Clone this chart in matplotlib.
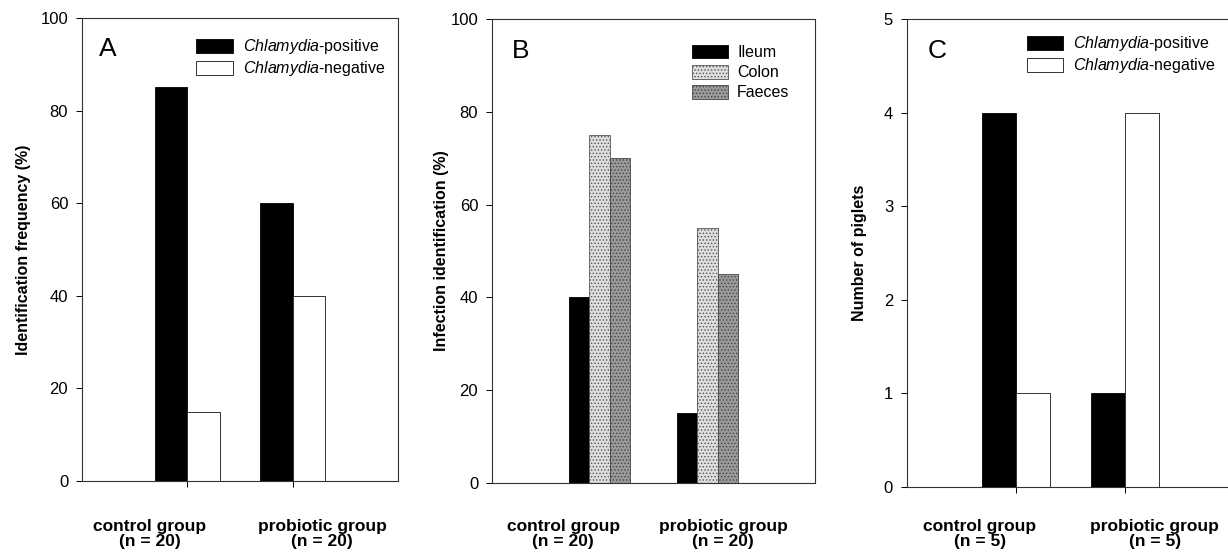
import matplotlib
matplotlib.use('Agg')
import matplotlib.pyplot as plt
import numpy as np

plt.rcParams['font.family'] = ['Liberation Sans', 'DejaVu Sans']
plt.rcParams['mathtext.fontset'] = 'custom'
plt.rcParams['mathtext.rm'] = 'Liberation Sans'
plt.rcParams['mathtext.it'] = 'Liberation Sans:italic'
plt.rcParams['hatch.linewidth'] = 0.6

# данные
groups_20 = ['control group\n(n = 20)', 'probiotic group\n(n = 20)']
groups_5 = ['control group\n(n = 5)', 'probiotic group\n(n = 5)']

freq_positive = [85, 60]
freq_negative = [15, 40]

ileum = [40, 15]
colon = [75, 55]
faeces = [70, 45]

piglets_positive = [4, 1]
piglets_negative = [1, 4]

fig = plt.figure(figsize=(12.28, 5.59), dpi=100)
ax_a = fig.add_axes([0.0668, 0.1395, 0.2573, 0.8283])
ax_b = fig.add_axes([0.4007, 0.1360, 0.2630, 0.8300])
ax_c = fig.add_axes([0.7386, 0.1288, 0.2663, 0.8372])

x = np.arange(1, 3)
pos_label = r'$\it{Chlamydia}$-positive'
neg_label = r'$\it{Chlamydia}$-negative'


def style_axis(ax, ymax, step, ylabel, letter, letter_x, labels, label_x, labelpad, show_xticks=True):
    ax.set_xlim(0, 3)
    ax.set_ylim(0, ymax)
    ax.set_yticks(np.arange(0, ymax + step / 2, step))
    ax.set_xticks(x)
    ax.set_xticklabels(['', ''])
    ax.tick_params(axis='x', length=4 if show_xticks else 0, direction='out', width=0.7)
    ax.tick_params(axis='y', length=4, labelsize=12, direction='out', width=0.7, pad=6)
    ax.set_ylabel(ylabel, fontsize=11.5, fontweight='bold', labelpad=labelpad)
    for sp in ax.spines.values():
        sp.set_linewidth(0.8)
        sp.set_color('#333333')
    ax.text(letter_x, 0.932, letter, transform=ax.transAxes, fontsize=19, va='center', ha='left')
    # подписи групп стоят не точно под делениями, как в оригинале
    for lab, lx in zip(labels, label_x):
        ax.annotate(lab, xy=(lx, 25), xycoords=('axes fraction', 'figure pixels'),
                    ha='center', va='center', fontsize=12.5, fontweight='bold',
                    linespacing=1.0, annotation_clip=False)


# панель A
w = 0.31
ax_a.bar(x - w / 2, freq_positive, w, color='black', edgecolor='black', linewidth=0.6, label=pos_label)
ax_a.bar(x + w / 2, freq_negative, w, color='white', edgecolor='#333333', linewidth=0.7, label=neg_label)
style_axis(ax_a, 100, 20, 'Identification frequency (%)', 'A', 0.052, groups_20, [0.215, 0.76], 7)
ax_a.legend(loc='upper right', frameon=False, fontsize=11.5, handlelength=2.3, handleheight=0.95,
            borderaxespad=0.8, labelspacing=0.2, handletextpad=0.6, bbox_to_anchor=(1.02, 1.0))

# панель B
wb = 0.19
ax_b.bar(x - wb, ileum, wb, color='black', edgecolor='black', linewidth=0.6, label='Ileum')
ax_b.bar(x, colon, wb, color='#dedede', edgecolor='#555555', linewidth=0.6, hatch='.....', label='Colon')
ax_b.bar(x + wb, faeces, wb, color='#9a9a9a', edgecolor='#444444', linewidth=0.6, hatch='.....', label='Faeces')
style_axis(ax_b, 100, 20, 'Infection identification (%)', 'B', 0.06, groups_20, [0.22, 0.715], 1,
           show_xticks=False)
ax_b.legend(loc='upper right', frameon=False, fontsize=11.5, handlelength=2.2, handleheight=0.95,
            borderaxespad=1.2, labelspacing=0.3, handletextpad=0.6, bbox_to_anchor=(1.0, 1.0))

# панель C
ax_c.bar(x - w / 2, piglets_positive, w, color='black', edgecolor='black', linewidth=0.6, label=pos_label)
ax_c.bar(x + w / 2, piglets_negative, w, color='white', edgecolor='#333333', linewidth=0.7, label=neg_label)
style_axis(ax_c, 5, 1, 'Number of piglets', 'C', 0.062, groups_5, [0.223, 0.758], 12)
ax_c.legend(loc='upper right', frameon=False, fontsize=11.5, handlelength=2.3, handleheight=0.95,
            borderaxespad=0.55, labelspacing=0.2, handletextpad=0.6, bbox_to_anchor=(0.99, 1.0))

fig.savefig('out.png', dpi=100)
